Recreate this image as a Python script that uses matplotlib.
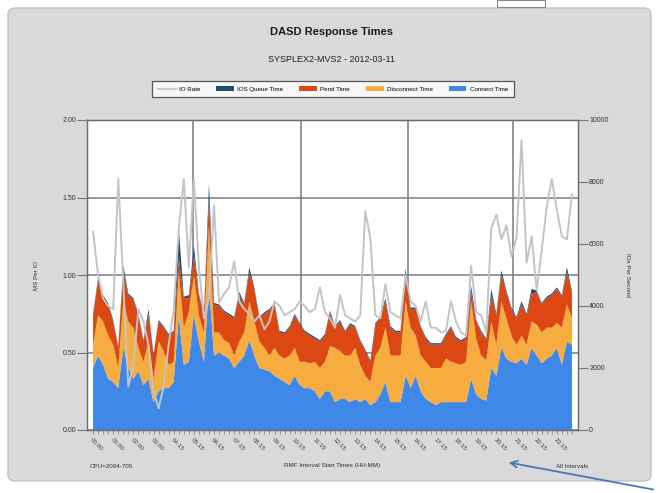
import numpy as np
import matplotlib
matplotlib.use("Agg")
import matplotlib.pyplot as plt
from matplotlib.patches import FancyBboxPatch, Rectangle, FancyArrowPatch
from matplotlib.lines import Line2D
from matplotlib.patches import Patch

plt.rcParams['font.family'] = ['Liberation Sans', 'DejaVu Sans']

# 15 minute RMF intervals (ms per IO)
connect = [0.40, 0.48, 0.42, 0.33, 0.31, 0.27, 0.53, 0.40, 0.33, 0.38,
           0.29, 0.33, 0.18, 0.25, 0.27, 0.27, 0.31, 0.74, 0.42, 0.44,
           0.74, 0.57, 0.44, 0.94, 0.48, 0.50, 0.48, 0.46, 0.40, 0.44,
           0.48, 0.58, 0.48, 0.40, 0.39, 0.38, 0.35, 0.33, 0.31, 0.29,
           0.35, 0.29, 0.27, 0.27, 0.25, 0.20, 0.25, 0.25, 0.18, 0.20,
           0.20, 0.18, 0.20, 0.18, 0.20, 0.16, 0.18, 0.23, 0.31, 0.18,
           0.18, 0.18, 0.35, 0.27, 0.35, 0.25, 0.20, 0.18, 0.16, 0.18,
           0.18, 0.18, 0.18, 0.18, 0.18, 0.33, 0.23, 0.20, 0.19, 0.40,
           0.35, 0.53, 0.46, 0.44, 0.43, 0.46, 0.42, 0.53, 0.48, 0.43,
           0.46, 0.48, 0.53, 0.42, 0.57, 0.55]

disconnect = [0.15, 0.26, 0.28, 0.28, 0.24, 0.13, 0.30, 0.30, 0.33, 0.15,
              0.15, 0.24, 0.15, 0.32, 0.24, 0.15, 0.13, 0.28, 0.24, 0.32,
              0.26, 0.17, 0.19, 0.38, 0.15, 0.13, 0.10, 0.10, 0.08, 0.13,
              0.15, 0.25, 0.22, 0.17, 0.14, 0.10, 0.18, 0.15, 0.15, 0.19,
              0.18, 0.15, 0.17, 0.16, 0.19, 0.20, 0.19, 0.29, 0.35, 0.31,
              0.28, 0.30, 0.33, 0.24, 0.15, 0.15, 0.30, 0.30, 0.35, 0.30,
              0.30, 0.30, 0.48, 0.39, 0.26, 0.23, 0.24, 0.22, 0.24, 0.22,
              0.28, 0.26, 0.25, 0.24, 0.26, 0.50, 0.36, 0.28, 0.26, 0.30,
              0.20, 0.30, 0.26, 0.17, 0.12, 0.15, 0.13, 0.17, 0.20, 0.20,
              0.20, 0.18, 0.16, 0.24, 0.24, 0.17]

pend = [0.19, 0.22, 0.16, 0.20, 0.15, 0.13, 0.19, 0.17, 0.18, 0.21,
        0.13, 0.18, 0.15, 0.13, 0.15, 0.19, 0.19, 0.09, 0.19, 0.09,
        0.13, 0.13, 0.11, 0.17, 0.18, 0.17, 0.18, 0.18, 0.24, 0.30,
        0.18, 0.19, 0.21, 0.15, 0.22, 0.29, 0.28, 0.15, 0.16, 0.18,
        0.21, 0.24, 0.19, 0.18, 0.15, 0.17, 0.17, 0.22, 0.13, 0.19,
        0.15, 0.20, 0.13, 0.15, 0.16, 0.13, 0.20, 0.19, 0.17, 0.18,
        0.15, 0.15, 0.15, 0.12, 0.17, 0.18, 0.15, 0.15, 0.15, 0.15,
        0.15, 0.22, 0.16, 0.15, 0.15, 0.06, 0.11, 0.15, 0.13, 0.17,
        0.19, 0.17, 0.17, 0.17, 0.17, 0.20, 0.19, 0.18, 0.21, 0.18,
        0.19, 0.21, 0.22, 0.20, 0.21, 0.17]

iosq = [0.01, 0.02, 0.01, 0.01, 0.01, 0.01, 0.04, 0.01, 0.01, 0.01,
        0.01, 0.03, 0.01, 0.01, 0.01, 0.01, 0.01, 0.19, 0.01, 0.02,
        0.06, 0.01, 0.01, 0.10, 0.01, 0.01, 0.01, 0.01, 0.01, 0.02,
        0.01, 0.03, 0.01, 0.01, 0.01, 0.01, 0.01, 0.01, 0.01, 0.01,
        0.01, 0.01, 0.01, 0.01, 0.01, 0.01, 0.01, 0.01, 0.01, 0.01,
        0.01, 0.01, 0.01, 0.01, 0.01, 0.01, 0.01, 0.01, 0.02, 0.01,
        0.01, 0.01, 0.06, 0.01, 0.01, 0.01, 0.01, 0.01, 0.01, 0.01,
        0.01, 0.01, 0.01, 0.01, 0.01, 0.04, 0.01, 0.01, 0.01, 0.04,
        0.01, 0.03, 0.01, 0.01, 0.01, 0.02, 0.01, 0.03, 0.01, 0.01,
        0.01, 0.01, 0.01, 0.01, 0.03, 0.01]

io_rate = [6400, 5000, 4250, 4000, 3900, 8100, 4750, 1400, 2100, 3900,
           3500, 2750, 1250, 700, 1400, 2750, 3900, 6500, 8100, 5250,
           8100, 5250, 3600, 4250, 7250, 4100, 4400, 4600, 5450, 4150,
           3900, 3750, 3500, 3700, 3250, 3500, 4150, 4000, 3700, 3800,
           3900, 4150, 4000, 3800, 3900, 4600, 3800, 3600, 3300, 4350,
           3700, 3600, 3500, 3700, 7050, 6200, 3700, 3600, 4700, 3800,
           3700, 3600, 5000, 4150, 4000, 3500, 4150, 3300, 3300, 3150,
           3200, 4150, 3500, 3150, 3050, 5300, 3800, 3700, 3150, 6500,
           6950, 6150, 6600, 5600, 6200, 9350, 5400, 6250, 4500, 5800,
           7200, 8100, 7100, 6250, 6150, 7600]

hour_labels = ["00:00", "01:00", "02:00", "03:00", "04:15", "05:15", "06:15",
               "07:15", "08:15", "09:15", "10:15", "11:15", "12:15", "13:15",
               "14:15", "15:15", "16:15", "17:15", "18:15", "19:15", "20:15",
               "21:15", "22:15", "23:15"]

series_names = ["Connect Time", "Disconnect Time", "Pend Time", "IOS Queue Time"]
colors = ["#3f88e8", "#f7ac3f", "#dd4712", "#1b4f7a"]
io_color = "#c4c4c4"

W, H = 659, 493
fig = plt.figure(figsize=(W / 100, H / 100), dpi=100)
fig.patch.set_facecolor("white")

# grey report panel
panel = FancyBboxPatch((8 / W, 12 / H), 643 / W, 473 / H,
                       boxstyle="round,pad=0,rounding_size=0.012",
                       transform=fig.transFigure, facecolor="#d9d9d9",
                       edgecolor="#c2c2c2", lw=1.0, zorder=-10)
fig.patches.append(panel)
fig.patches.append(Rectangle((497 / W, 1 - 7 / H), 48 / W, 7 / H,
                             transform=fig.transFigure, facecolor="white",
                             edgecolor="#8a8a8a", lw=0.8, zorder=-5))

x = np.arange(len(connect))

ax = fig.add_axes([87 / W, 1 - 430 / H, 491 / W, 310 / H])
ax.set_facecolor("white")
ax.stackplot(x, connect, disconnect, pend, iosq, colors=colors, lw=0,
             zorder=1)
ax.set_xlim(-1.2, len(x) + 0.2)
ax.set_ylim(0, 2)
ax.set_yticks([0, 0.5, 1.0, 1.5, 2.0])
ax.set_yticklabels(["%.2f" % v for v in [0, 0.5, 1.0, 1.5, 2.0]])
ax.set_axisbelow(True)
ax.grid(axis="y", color="#7a7a7a", lw=1.1)
for gx in [19.8, 41.3, 62.5, 83.3]:
    ax.axvline(gx, color="#7a7a7a", lw=1.1, zorder=0.5)

ax.set_xticks(x, minor=True)
ax.set_xticks(x[::4])
ax.set_xticklabels(hour_labels)
for lbl in ax.get_xticklabels():
    lbl.set_rotation(-45)
    lbl.set_ha("left")
    lbl.set_va("top")
    lbl.set_rotation_mode("anchor")
ax.tick_params(axis="x", which="both", length=3, width=0.6, color="#8a8a8a",
               labelsize=4.5, labelcolor="#444", pad=2)
ax.tick_params(axis="y", length=7, width=0.8, color="#777", labelsize=5,
               labelcolor="#333", pad=1)
for s in ax.spines.values():
    s.set_color("#6e6e6e")
    s.set_linewidth(1.0)

ax2 = ax.twinx()
ax2.plot(x, io_rate, color=io_color, lw=1.4, zorder=3)
ax2.set_ylim(0, 10000)
ax2.set_yticks([0, 2000, 4000, 6000, 8000, 10000])
ax2.tick_params(axis="y", length=7, width=0.8, color="#777", labelsize=5,
                labelcolor="#333", pad=1)
for s in ax2.spines.values():
    s.set_color("#6e6e6e")

# titles and axis texts
fig.text(331 / W, 1 - 32 / H, "DASD Response Times", ha="center",
         va="center", fontsize=8, fontweight="bold", color="#1a1a1a")
fig.text(331 / W, 1 - 60 / H, "SYSPLEX2-MVS2 - 2012-03-11", ha="center",
         va="center", fontsize=6.5, color="#222")
fig.text(37 / W, 1 - 275 / H, "MS Per IO", rotation=90, ha="center",
         va="center", fontsize=4.5, color="#333")
fig.text(628 / W, 1 - 275 / H, "IOs Per Second", rotation=270, ha="center",
         va="center", fontsize=4.5, color="#333")
fig.text(90 / W, 1 - 466 / H, "CPU=2094-705", ha="left", va="center",
         fontsize=4.5, color="#333")
fig.text(332 / W, 1 - 466 / H, "RMF Interval Start Times (HH:MM)",
         ha="center", va="center", fontsize=4.5, color="#333")
fig.text(588 / W, 1 - 466 / H, "All Intervals", ha="right", va="center",
         fontsize=4.5, color="#333")

# legend
handles = [Line2D([0], [0], color=io_color, lw=1.2)]
handles += [Patch(facecolor=c, edgecolor="none") for c in colors[::-1]]
labels = ["IO Rate"] + series_names[::-1]
leg = fig.legend(handles, labels, loc="center",
                 bbox_to_anchor=(333 / W, 1 - 89 / H), ncol=5, fontsize=4.5,
                 frameon=True, fancybox=False, edgecolor="#333",
                 handlelength=2.8, handleheight=0.8, columnspacing=2.6,
                 borderpad=0.9, handletextpad=0.5)
leg.get_frame().set_linewidth(0.9)

# annotation arrow from the screenshot
fig.add_artist(FancyArrowPatch(posA=(656 / W, 1 - 490 / H),
                               posB=(506 / W, 1 - 462 / H),
                               transform=fig.transFigure, arrowstyle="->",
                               mutation_scale=12, color="#4a78b5", lw=1.3))

fig.savefig("out.png", dpi=100)
